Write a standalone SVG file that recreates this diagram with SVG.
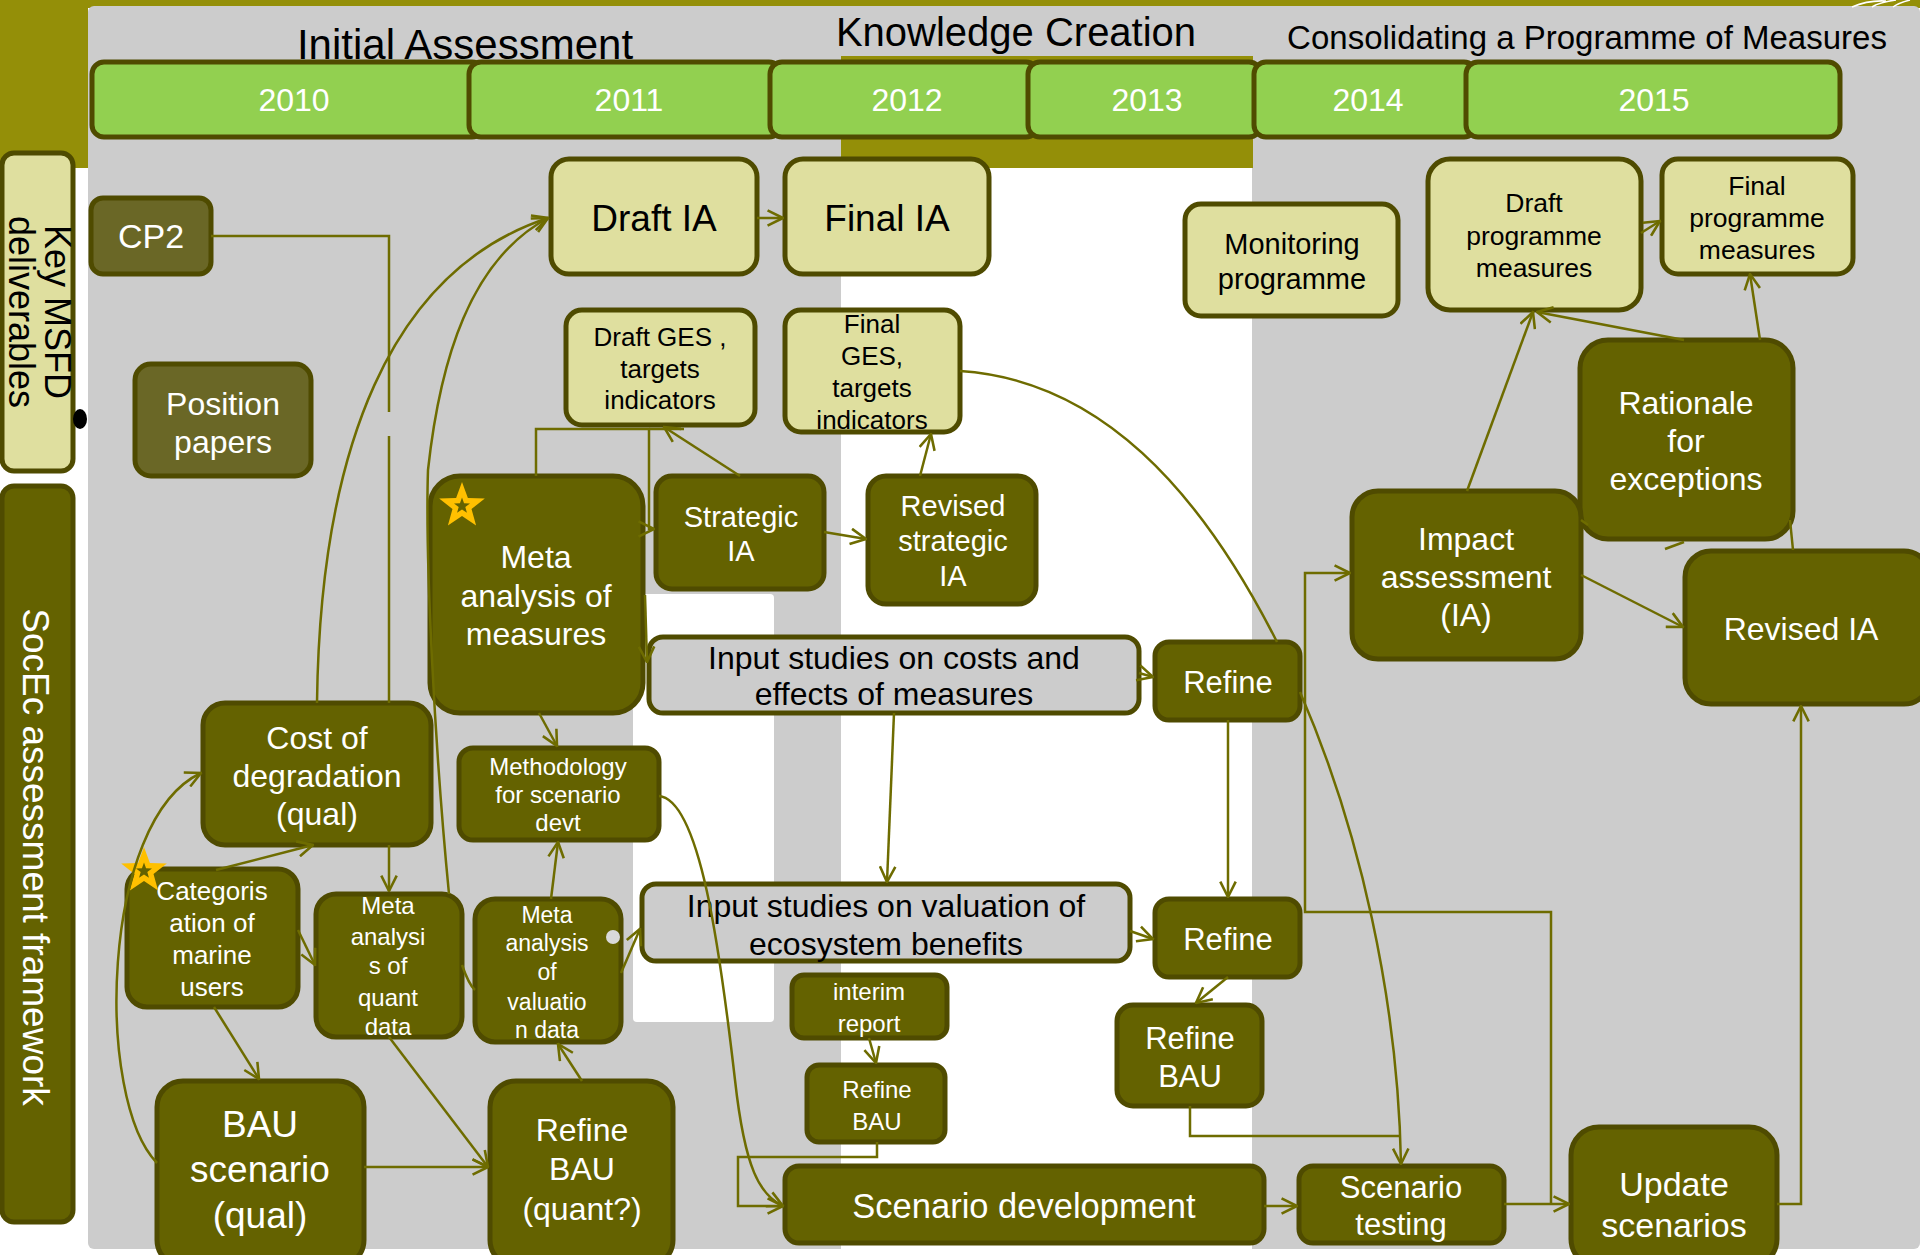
<svg xmlns="http://www.w3.org/2000/svg" width="1920" height="1255" viewBox="0 0 1920 1255">
<defs>
<style>
.lbl{font-family:"Liberation Sans",Arial,sans-serif;text-anchor:middle}
.dk{fill:#000}
.wt{fill:#fff}
.bk{fill:#DFDF9F;stroke:#4F4B00;stroke-width:5}
.bo{fill:#646200;stroke:#4F4B00;stroke-width:5}
.bm{fill:#6A6726;stroke:#4F4B00;stroke-width:5}
.bg{fill:#CCCCCC;stroke:#4F4B00;stroke-width:5}
.yr{fill:#92D050;stroke:#4F4B00;stroke-width:5}
.cn{fill:none;stroke:#6E6C00;stroke-width:2.5}
.ar{marker-end:url(#arr)}
</style>
<marker id="arr" viewBox="0 0 14 14" refX="13" refY="7" markerWidth="18" markerHeight="18" markerUnits="userSpaceOnUse" orient="auto">
<path d="M1,1 L13,7 L1,13" fill="none" stroke="#6E6C00" stroke-width="2"/>
</marker>
<g id="star">
<polygon points="0,-24 5.88,-8.09 22.83,-7.42 9.51,3.09 14.11,19.42 0,10 -14.11,19.42 -9.51,3.09 -22.83,-7.42 -5.88,-8.09" fill="#FFC000"/>
<polygon points="0,-8.4 2.06,-2.83 7.99,-2.6 3.33,1.08 4.94,6.8 0,3.5 -4.94,6.8 -3.33,1.08 -7.99,-2.6 -2.06,-2.83" fill="#646200"/>
</g>
</defs>

<g id="background">
<rect width="1920" height="1255" fill="#fff"/>
<rect x="0" y="0" width="1920" height="8" fill="#948F08"/>
<rect x="0" y="0" width="88" height="168" fill="#948F08"/>
<rect x="88" y="6" width="1832" height="1243" rx="6" fill="#CCCCCC"/>
<rect x="841" y="56" width="412" height="112" fill="#948F08"/>
<rect x="841" y="168" width="411" height="1090" fill="#fff"/>
<rect x="633" y="594" width="141" height="428" rx="4" fill="#fff"/>
<path d="M1852 7 Q1868 0 1886 1 M1872 7 Q1880 2 1896 0 M1893 7 Q1898 3 1910 0" fill="none" stroke="#fff" stroke-width="1.5"/>
</g>

<g id="phases">
<text class="lbl dk" x="465" y="59" font-size="42">Initial Assessment</text>
<text class="lbl dk" x="1016" y="46" font-size="40">Knowledge Creation</text>
<text class="lbl dk" x="1587" y="49" font-size="33">Consolidating a Programme of Measures</text>
</g>

<g id="years">
<g id="y2010"><rect class="yr" x="92" y="62" width="392" height="75" rx="12"/><text class="lbl wt" x="294" y="111" font-size="32">2010</text></g>
<g id="y2011"><rect class="yr" x="469" y="62" width="312" height="75" rx="12"/><text class="lbl wt" x="629" y="111" font-size="32">2011</text></g>
<g id="y2012"><rect class="yr" x="770" y="62" width="268" height="75" rx="12"/><text class="lbl wt" x="907" y="111" font-size="32">2012</text></g>
<g id="y2013"><rect class="yr" x="1028" y="62" width="233" height="75" rx="12"/><text class="lbl wt" x="1147" y="111" font-size="32">2013</text></g>
<g id="y2014"><rect class="yr" x="1254" y="62" width="222" height="75" rx="12"/><text class="lbl wt" x="1368" y="111" font-size="32">2014</text></g>
<g id="y2015"><rect class="yr" x="1466" y="62" width="374" height="75" rx="12"/><text class="lbl wt" x="1654" y="111" font-size="32">2015</text></g>
</g>

<g id="row-labels">
<g id="lbl-msfd">
<rect class="bk" x="2" y="153" width="71" height="318" rx="12"/>
<text class="lbl dk" font-size="36" transform="translate(0,312) rotate(90)"><tspan x="0" y="-45">Key MSFD</tspan><tspan x="0" y="-9">deliverables</tspan></text>
<ellipse cx="80" cy="419" rx="7" ry="10" fill="#000"/>
</g>
<g id="lbl-socec">
<rect class="bo" x="2" y="486" width="71" height="736" rx="12"/>
<text class="lbl wt" font-size="37" transform="translate(0,857) rotate(90)" x="0" y="-23">SocEc assessment framework</text>
</g>
</g>

<g id="nodes">
<g id="draft-ia"><rect class="bk" x="551" y="159" width="206" height="115" rx="18"/><text class="lbl dk" x="654" y="231" font-size="37">Draft IA</text></g>
<g id="final-ia"><rect class="bk" x="785" y="159" width="204" height="115" rx="18"/><text class="lbl dk" x="887" y="231" font-size="37">Final IA</text></g>
<g id="draft-ges"><rect class="bk" x="566" y="310" width="189" height="115" rx="16"/><text class="lbl dk" font-size="26"><tspan x="660" y="346">Draft GES ,</tspan><tspan x="660" y="378">targets</tspan><tspan x="660" y="409">indicators</tspan></text></g>
<g id="final-ges"><rect class="bk" x="785" y="310" width="175" height="122" rx="16"/><text class="lbl dk" font-size="26"><tspan x="872" y="333">Final</tspan><tspan x="872" y="365">GES,</tspan><tspan x="872" y="397">targets</tspan><tspan x="872" y="429">indicators</tspan></text></g>
<g id="monitoring"><rect class="bk" x="1185" y="204" width="213" height="112" rx="16"/><text class="lbl dk" font-size="29"><tspan x="1292" y="254">Monitoring</tspan><tspan x="1292" y="289">programme</tspan></text></g>
<g id="draft-prog"><rect class="bk" x="1428" y="159" width="213" height="151" rx="22"/><text class="lbl dk" font-size="26.5"><tspan x="1534" y="212">Draft</tspan><tspan x="1534" y="245">programme</tspan><tspan x="1534" y="277">measures</tspan></text></g>
<g id="final-prog"><rect class="bk" x="1662" y="159" width="191" height="115" rx="16"/><text class="lbl dk" font-size="26.5"><tspan x="1757" y="195">Final</tspan><tspan x="1757" y="227">programme</tspan><tspan x="1757" y="259">measures</tspan></text></g>
<g id="cp2"><rect class="bm" x="91" y="198" width="120" height="76" rx="12"/><text class="lbl wt" x="151" y="248" font-size="34">CP2</text></g>
<g id="position-papers"><rect class="bm" x="135" y="364" width="176" height="112" rx="16"/><text class="lbl wt" font-size="32"><tspan x="223" y="415">Position</tspan><tspan x="223" y="453">papers</tspan></text></g>
<g id="meta-measures"><rect class="bo" x="430" y="476" width="213" height="237" rx="30"/><text class="lbl wt" font-size="32"><tspan x="536" y="568">Meta</tspan><tspan x="536" y="607">analysis of</tspan><tspan x="536" y="645">measures</tspan></text><use href="#star" x="462" y="506"/></g>
<g id="strategic-ia"><rect class="bo" x="656" y="476" width="168" height="113" rx="16"/><text class="lbl wt" font-size="29"><tspan x="741" y="527">Strategic</tspan><tspan x="741" y="561">IA</tspan></text></g>
<g id="revised-strategic-ia"><rect class="bo" x="868" y="476" width="168" height="128" rx="18"/><text class="lbl wt" font-size="29"><tspan x="953" y="516">Revised</tspan><tspan x="953" y="551">strategic</tspan><tspan x="953" y="586">IA</tspan></text></g>
<g id="input-costs"><rect class="bg" x="649" y="637" width="490" height="76" rx="14"/><text class="lbl dk" font-size="32"><tspan x="894" y="669">Input studies on costs and</tspan><tspan x="894" y="705">effects of measures</tspan></text></g>
<g id="refine-1"><rect class="bo" x="1155" y="642" width="145" height="78" rx="14"/><text class="lbl wt" x="1228" y="693" font-size="31">Refine</text></g>
<g id="methodology"><rect class="bo" x="459" y="748" width="200" height="92" rx="14"/><text class="lbl wt" font-size="24"><tspan x="558" y="775">Methodology</tspan><tspan x="558" y="803">for scenario</tspan><tspan x="558" y="831">devt</tspan></text></g>
<g id="cost-degradation"><rect class="bo" x="203" y="703" width="228" height="142" rx="22"/><text class="lbl wt" font-size="32"><tspan x="317" y="749">Cost of</tspan><tspan x="317" y="787">degradation</tspan><tspan x="317" y="825">(qual)</tspan></text></g>
<g id="categorisation"><rect class="bo" x="127" y="869" width="171" height="138" rx="20"/><text class="lbl wt" font-size="26"><tspan x="212" y="900">Categoris</tspan><tspan x="212" y="932">ation of</tspan><tspan x="212" y="964">marine</tspan><tspan x="212" y="996">users</tspan></text><use href="#star" x="144" y="871"/></g>
<g id="meta-quant"><rect class="bo" x="316" y="894" width="146" height="143" rx="20"/><text class="lbl wt" font-size="24"><tspan x="388" y="914">Meta</tspan><tspan x="388" y="945">analysi</tspan><tspan x="388" y="974">s of</tspan><tspan x="388" y="1006">quant</tspan><tspan x="388" y="1035">data</tspan></text></g>
<g id="meta-valuation"><rect class="bo" x="475" y="899" width="146" height="143" rx="20"/><text class="lbl wt" font-size="23"><tspan x="547" y="923">Meta</tspan><tspan x="547" y="951">analysis</tspan><tspan x="547" y="980">of</tspan><tspan x="547" y="1010">valuatio</tspan><tspan x="547" y="1038">n data</tspan></text><circle cx="613" cy="937" r="7" fill="#D9D9D9"/></g>
<g id="input-valuation"><rect class="bg" x="642" y="884" width="488" height="77" rx="14"/><text class="lbl dk" font-size="32"><tspan x="886" y="917">Input studies on valuation of</tspan><tspan x="886" y="955">ecosystem benefits</tspan></text></g>
<g id="refine-2"><rect class="bo" x="1155" y="899" width="145" height="78" rx="14"/><text class="lbl wt" x="1228" y="950" font-size="31">Refine</text></g>
<g id="interim-report"><rect class="bo" x="792" y="975" width="155" height="63" rx="12"/><text class="lbl wt" font-size="24"><tspan x="869" y="1000">interim</tspan><tspan x="869" y="1032">report</tspan></text></g>
<g id="refine-bau-small"><rect class="bo" x="807" y="1065" width="138" height="77" rx="12"/><text class="lbl wt" font-size="24"><tspan x="877" y="1098">Refine</tspan><tspan x="877" y="1130">BAU</tspan></text></g>
<g id="refine-bau-right"><rect class="bo" x="1117" y="1005" width="145" height="101" rx="16"/><text class="lbl wt" font-size="31"><tspan x="1190" y="1049">Refine</tspan><tspan x="1190" y="1087">BAU</tspan></text></g>
<g id="bau-scenario"><rect class="bo" x="157" y="1081" width="207" height="185" rx="26"/><text class="lbl wt" font-size="37"><tspan x="260" y="1137">BAU</tspan><tspan x="260" y="1182">scenario</tspan><tspan x="260" y="1228">(qual)</tspan></text></g>
<g id="refine-bau-quant"><rect class="bo" x="490" y="1081" width="183" height="185" rx="26"/><text class="lbl wt" font-size="32"><tspan x="582" y="1141">Refine</tspan><tspan x="582" y="1180">BAU</tspan><tspan x="582" y="1220">(quant?)</tspan></text></g>
<g id="scenario-development"><rect class="bo" x="785" y="1166" width="479" height="77" rx="14"/><text class="lbl wt" x="1024" y="1218" font-size="34.5">Scenario development</text></g>
<g id="scenario-testing"><rect class="bo" x="1299" y="1166" width="205" height="77" rx="14"/><text class="lbl wt" font-size="31"><tspan x="1401" y="1198">Scenario</tspan><tspan x="1401" y="1235">testing</tspan></text></g>
<g id="update-scenarios"><rect class="bo" x="1571" y="1127" width="206" height="140" rx="28"/><text class="lbl wt" font-size="34"><tspan x="1674" y="1196">Update</tspan><tspan x="1674" y="1237">scenarios</tspan></text></g>
<g id="rationale"><rect class="bo" x="1580" y="340" width="213" height="199" rx="28"/><text class="lbl wt" font-size="32"><tspan x="1686" y="414">Rationale</tspan><tspan x="1686" y="452">for</tspan><tspan x="1686" y="490">exceptions</tspan></text></g>
<g id="impact-assessment"><rect class="bo" x="1352" y="491" width="229" height="168" rx="26"/><text class="lbl wt" font-size="32"><tspan x="1466" y="550">Impact</tspan><tspan x="1466" y="588">assessment</tspan><tspan x="1466" y="626">(IA)</tspan></text></g>
<g id="revised-ia"><rect class="bo" x="1685" y="551" width="245" height="153" rx="26"/><text class="lbl wt" x="1801" y="640" font-size="32">Revised IA</text></g>
</g>

<g id="connectors">
<path class="cn" d="M211 236 H389 V412"/>
<path class="cn" d="M389 436 V703"/>
<path class="cn ar" d="M389 845 V891"/>
<path class="cn ar" d="M317 703 C320 450 390 270 548 218"/>
<path class="cn ar" d="M449 894 C435 750 425 560 428 470 C440 360 470 260 548 218"/>
<path class="cn ar" d="M757 218 H783"/>
<path class="cn ar" d="M536 476 V429 H649 V529 L654 529"/>
<path class="cn" d="M649 429 H684"/>
<path class="cn ar" d="M740 476 L664 427"/>
<path class="cn ar" d="M824 532 L866 539"/>
<path class="cn ar" d="M920 476 L931 434"/>
<path class="cn" d="M960 371 C1100 380 1200 490 1277 642"/>
<path class="cn ar" d="M645 595 L647 662"/>
<path class="cn ar" d="M539 713 L557 746"/>
<path class="cn ar" d="M1139 673 L1153 677"/>
<path class="cn ar" d="M894 713 L887 882"/>
<path class="cn ar" d="M1228 720 V897"/>
<path class="cn ar" d="M1300 692 C1360 830 1398 1000 1401 1164"/>
<path class="cn ar" d="M1130 931 L1153 939"/>
<path class="cn ar" d="M621 973 L640 929"/>
<path class="cn ar" d="M659 796 C700 800 720 950 735 1080 C745 1170 760 1195 783 1206"/>
<path class="cn ar" d="M1228 977 L1196 1003"/>
<path class="cn" d="M1190 1106 V1136 H1401"/>
<path class="cn ar" d="M869 1038 L876 1063"/>
<path class="cn ar" d="M877 1142 V1157 H738 V1206 H783"/>
<path class="cn ar" d="M1264 1206 H1297"/>
<path class="cn ar" d="M1504 1204 H1569"/>
<path class="cn ar" d="M1551 1204 V912 H1305 V573 H1350"/>
<path class="cn ar" d="M1777 1204 H1801 V706"/>
<path class="cn ar" d="M1467 491 L1533 312"/>
<path class="cn ar" d="M1684 340 L1537 312"/>
<path class="cn ar" d="M1760 340 L1750 274"/>
<path class="cn ar" d="M1641 233 L1660 221"/>
<path class="cn ar" d="M1581 575 L1683 627"/>
<path class="cn" d="M1581 520 L1588 525"/>
<path class="cn" d="M1665 549 L1684 542"/>
<path class="cn" d="M1790 520 L1793 550"/>
<path class="cn ar" d="M216 870 L313 845"/>
<path class="cn ar" d="M298 930 L315 965"/>
<path class="cn ar" d="M214 1007 L259 1079"/>
<path class="cn ar" d="M157 1163 C95 1100 100 820 201 773"/>
<path class="cn ar" d="M364 1167 H488"/>
<path class="cn ar" d="M389 1037 L488 1167"/>
<path class="cn ar" d="M582 1081 L558 1044"/>
<path class="cn ar" d="M551 899 L558 842"/>
<path class="cn" d="M462 965 Q469 985 475 990"/>
</g>
</svg>
